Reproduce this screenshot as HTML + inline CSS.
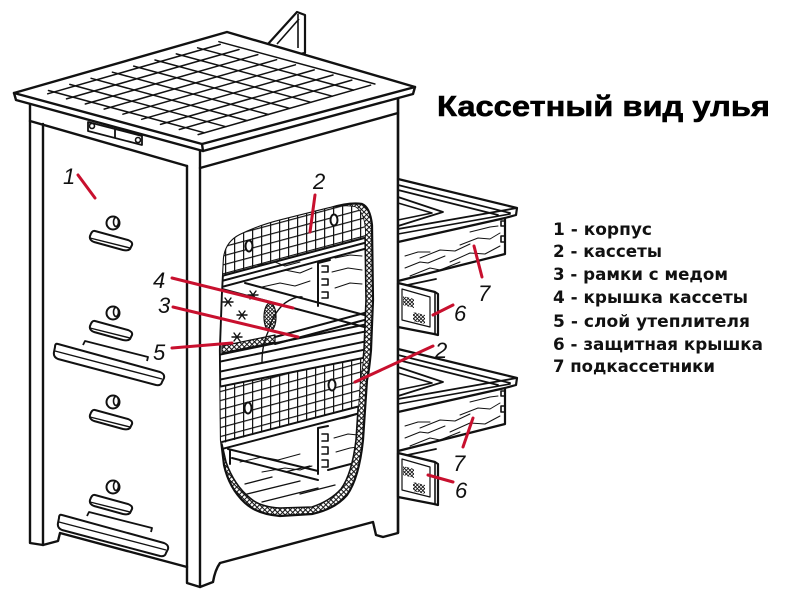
<!DOCTYPE html>
<html><head><meta charset="utf-8"><style>
html,body{margin:0;padding:0;background:#fff;}
svg{display:block;}
</style></head><body>
<svg width="800" height="600" viewBox="0 0 800 600" xmlns="http://www.w3.org/2000/svg">
<defs>
<pattern id="xh" width="3.6" height="3.6" patternUnits="userSpaceOnUse" patternTransform="rotate(45)">
 <rect width="3.6" height="3.6" fill="#fff"/>
 <path d="M0,0.5H3.6M0.5,0V3.6" stroke="#111" stroke-width="1"/>
</pattern>
<pattern id="mesh" width="9" height="9" patternUnits="userSpaceOnUse" patternTransform="skewY(-15)">
 <rect width="9" height="9" fill="#fff"/>
 <path d="M0,0.6H9M0.6,0V9" stroke="#111" stroke-width="1.2"/>
</pattern>
<pattern id="fine" width="2.6" height="2.6" patternUnits="userSpaceOnUse" patternTransform="rotate(45)">
 <rect width="2.6" height="2.6" fill="#fff"/>
 <path d="M0,0.4H2.6M0.4,0V2.6" stroke="#111" stroke-width="0.9"/>
</pattern>
<clipPath id="inner"><path d="M224,258 Q226,242 240,235 Q258,226 282,220 L330,208 Q345,205 355,207 Q364,212 365,230 L366,300 L364,350 Q362,372 360,380 L356,440 Q352,474 341,489 Q330,501 312,507 L280,508 Q260,507 250,498 Q234,485 226,462 L221,440 L220,350 L222,295 Z"/></clipPath>
<g id="drawer">
 <path d="M398,179 L517,208 L516,215 L505,218 V254 L398,281 Z" fill="#fff" stroke="none"/>
 <g stroke="#111" fill="none" stroke-linejoin="round" stroke-linecap="round">
  <path d="M398,179 L517,208 L516,215 L505,218" stroke-width="2.2"/>
  <path d="M398,185 L510,213" stroke-width="1.8"/>
  <path d="M398,190 L498,215" stroke-width="1.8"/>
  <path d="M398,197 L443,212 L398,226" stroke-width="1.8"/>
  <path d="M398,203 L432,213 L398,220" stroke-width="1.6"/>
  <path d="M398,229 L517,208" stroke-width="1.8"/>
  <path d="M398,234 L510,214" stroke-width="1.6"/>
  <path d="M398,242 L505,218 V254 L398,281" stroke-width="2.2"/>
  <path d="M505,221 h-4 v5 h4 M505,236 h-4 v6 h4" stroke-width="1.6"/>
  <path d="M398,287 L436,279" stroke-width="1.8"/>
  <g stroke-width="1">
   <path d="M405,268 L420,262 L428,263 L445,256"/>
   <path d="M410,276 L430,268 L440,270 L460,262"/>
   <path d="M420,258 L440,250 L455,251 L470,244"/>
   <path d="M450,262 L470,253 L485,254 L500,246"/>
   <path d="M460,245 L478,238 L490,239 L500,233"/>
   <path d="M405,256 L418,252 L430,252"/>
   <path d="M470,232 L490,227 L498,226"/>
  </g>
  <path d="M398,283 L435,292 L438,294 V335 L434,334 L398,327 Z" fill="#fff" stroke-width="2.2"/>
  <path d="M435,292 V334" stroke-width="1.6"/>
  <path d="M402,289 L430,297 V327 L402,320 Z" stroke-width="1.2"/>
  <path d="M403,296 L414,299 L414,308 L403,305 Z M413,312 L425,315 L425,324 L413,321 Z" fill="url(#fine)" stroke="none"/>
 </g>
</g>
</defs>

<!-- back plank -->
<g stroke="#111" stroke-width="2.2" fill="#fff" stroke-linejoin="round">
 <path d="M268,44 L297,12 L305,15 L305,53 L290,56 Z"/>
 <path d="M277,44 L299,19 M298,14 V48" fill="none" stroke-width="1.6"/>
</g>

<!-- body -->
<g stroke="#111" stroke-width="2.4" fill="none" stroke-linejoin="round" stroke-linecap="round">
 <path d="M30,98 V543 L43,545 V124" />
 <path d="M30,121 L187,166"/>
 <path d="M43,545 L58,541 L60,533 L187,567"/>
 <path d="M187,166 V583 L200,587 L213,582 Q215,570 220,563 L373,522 L376,535 L383,537 L398,533 V93"/>
 <path d="M200,151 V587"/>
 <path d="M200,168 L398,113"/>
 <path d="M88,122 L142,136 L142,145 L88,131 Z M115,129 V138" stroke-width="1.8"/>
 <circle cx="92" cy="126" r="2.5" stroke-width="1.6" fill="#fff"/>
 <circle cx="138" cy="140" r="2.5" stroke-width="1.6" fill="#fff"/>
</g>

<!-- knobs -->
<g stroke="#111" fill="#fff" stroke-width="2" stroke-linejoin="round">
 <g id="knob">
  <path d="M95,231 L128,240 Q133,242 132,245 L130,249 Q128,251 123,250 L94,242 Q89,240 90,236 Q92,230 95,231 Z"/>
  <path d="M90,238 L130,248" fill="none" stroke-width="1.4"/>
  <circle cx="113" cy="223" r="6.5"/>
  <ellipse cx="116" cy="222" rx="2.5" ry="4.5" stroke-width="1.6"/>
 </g>
 <use href="#knob" transform="translate(0,90)"/>
 <use href="#knob" transform="translate(0,179)"/>
 <use href="#knob" transform="translate(0,264)"/>
 <g id="board">
  <path d="M58,344 L160,372 Q165,374 164,378 L162,382 Q161,386 156,385 L58,359 Q53,357 54,352 L55,347 Q55,343 58,344 Z"/>
  <path d="M55,351 L162,379" fill="none" stroke-width="1.4"/>
  <path d="M83,345 L85,341 L148,357 L147,361" fill="none" stroke-width="1.8"/>
 </g>
 <use href="#board" transform="translate(4,171)"/>
</g>

<!-- drawers -->
<use href="#drawer"/>
<use href="#drawer" transform="translate(0,170)"/>
<path d="M398,93 V533" stroke="#111" stroke-width="2.4"/>

<!-- cutaway -->
<path d="M224,258 Q226,242 240,235 Q258,226 282,220 L330,208 Q350,202 362,204 Q370,207 372,225 L373,300 L371,350 Q369,372 367,380 L363,440 Q359,478 347,495 Q335,509 312,514 L280,516 Q257,514 245,503 Q229,488 224,465 L221,440 L220,350 L222,295 Z" fill="url(#xh)" stroke="#111" stroke-width="2.2"/>
<path d="M224,258 Q226,242 240,235 Q258,226 282,220 L330,208 Q345,205 355,207 Q364,212 365,230 L366,300 L364,350 Q362,372 360,380 L356,440 Q352,474 341,489 Q330,501 312,507 L280,508 Q260,507 250,498 Q234,485 226,462 L221,440 L220,350 L222,295 Z" fill="#fff" stroke="#111" stroke-width="1.6"/>
<g clip-path="url(#inner)" stroke="#111" fill="none" stroke-linecap="round" stroke-linejoin="round">
 <path d="M212,195 L375,195 L375,236 L212,279 Z" fill="url(#mesh)" stroke="none"/>
 <path d="M212,388 L375,356 L375,402 L212,446 Z" fill="url(#mesh)" stroke="none"/>
 <ellipse cx="249" cy="246" rx="3.5" ry="5.5" stroke-width="2" fill="#fff"/>
 <ellipse cx="334" cy="220" rx="3.5" ry="5.5" stroke-width="2" fill="#fff"/>
 <ellipse cx="248" cy="408" rx="3.5" ry="5.5" stroke-width="2" fill="#fff"/>
 <ellipse cx="332" cy="385" rx="3.5" ry="5.5" stroke-width="2" fill="#fff"/>
 <g stroke-width="2">
  <path d="M218,277 L368,237"/>
  <path d="M218,282 L368,242"/>
  <path d="M218,288 L368,248"/>
  <path d="M222,289 L368,328"/>
  <path d="M245,283 L368,316"/>
  <path d="M318,263 V306 M318,263 L330,260"/>
  <path d="M275,337 L368,312"/>
  <path d="M275,344 L368,319"/>
  <path d="M218,355 L368,324"/>
  <path d="M218,362 L368,331"/>
  <path d="M218,372 L368,341"/>
  <path d="M218,380 L368,349"/>
  <path d="M218,387 L368,357"/>
  <path d="M218,443 L368,404"/>
  <path d="M218,450 L368,411"/>
  <path d="M228,449 L318,471 M232,458 L318,480 M230,450 V464"/>
  <path d="M318,428 V474 M318,428 L328,426 M328,470 L362,461"/>
 </g>
 <path d="M322,266 h6 v6 h-6 M322,279 h6 v6 h-6 M322,292 h6 v6 h-6 M322,434 h6 v7 h-6 M322,447 h6 v7 h-6 M322,460 h6 v7 h-6" stroke-width="1.6"/>
 <path d="M222,346 L275,335 L275,342 L222,353 Z" fill="url(#xh)" stroke-width="1.2"/>
 <ellipse cx="270" cy="317" rx="6" ry="14" fill="url(#fine)" stroke-width="1.2"/>
 <path d="M262,362 Q262,345 268,332 Q273,313 285,303 Q295,296 302,297" stroke-width="1.4"/>
 <g stroke-width="1">
  <path d="M258,265 L275,262 L285,266 L300,262 M265,275 L285,270 L300,273 L312,268 M262,287 L280,283 L295,286 L310,281 M335,258 L350,255 L362,256 M332,272 L348,268 L362,270 M335,288 L350,283 L362,284"/>
  <path d="M240,462 L262,457 L278,460 L300,454 M262,472 L285,468 L300,470 L312,466 M332,420 L345,418 L358,414 M334,438 L348,434 L358,435 M336,452 L350,448 L358,447"/>
  <path d="M245,484 L272,477 M243,495 L300,481 M262,502 L318,488 M285,472 L310,466 M300,494 L335,485" stroke-width="1.3"/>
 </g>
 <g stroke-width="1.4">
  <path d="M223,302 L233,302 M225,298 L231,306 M231,298 L225,306"/>
  <path d="M248,295 L258,295 M250,291 L256,299 M256,291 L250,299"/>
  <path d="M237,315 L247,315 M239,311 L245,319 M245,311 L239,319"/>
  <path d="M232,337 L242,337 M234,333 L240,341 M240,333 L234,341"/>
 </g>
</g>

<!-- roof -->
<g stroke="#111" stroke-width="2.4" fill="none" stroke-linejoin="round" stroke-linecap="round">
 <path d="M14,93 L227,32 L415,87 L413,94 L203,151 L16,100 Z" fill="#fff"/>
 <path d="M14,93 L202,144 L415,87 M202,144 L203,151"/>
 <g stroke-width="1.5">
  <path d="M47.7,93.8 L220.2,44.4 M66.5,98.9 L239.0,49.5 M85.3,104.0 L257.8,54.6 M104.1,109.1 L276.6,59.7 M122.9,114.2 L295.4,64.8 M141.7,119.3 L314.2,69.9 M160.5,124.4 L333.0,75.0 M179.3,129.5 L351.8,80.1 M198.1,134.6 L370.6,85.2"/>
  <path d="M48.5,90.5 L204.5,132.8 M69.8,84.4 L225.8,126.7 M91.1,78.3 L247.1,120.6 M112.4,72.2 L268.4,114.5 M133.7,66.1 L289.7,108.4 M155.0,60.0 L311.0,102.3 M176.3,53.9 L332.3,96.2 M197.6,47.8 L353.6,90.1 M218.9,41.7 L374.9,84.0"/>
 </g>
</g>

<!-- red leader lines -->
<g stroke="#c8102e" stroke-width="3" stroke-linecap="round">
 <path d="M78,175 L95,198"/>
 <path d="M315,195 L310,232"/>
 <path d="M172,278 L293,308"/>
 <path d="M173,307 L298,337"/>
 <path d="M172,348 L232,343"/>
 <path d="M433,346 L355,382"/>
 <path d="M474,246 L482,277"/>
 <path d="M433,315 L453,305"/>
 <path d="M473,418 L463,447"/>
 <path d="M428,475 L453,482"/>
</g>

<!-- number labels -->
<g font-family="Liberation Sans, sans-serif" font-style="italic" font-size="22" fill="#111">
 <text x="63" y="184">1</text>
 <text x="313" y="189">2</text>
 <text x="153" y="288">4</text>
 <text x="158" y="313">3</text>
 <text x="153" y="360">5</text>
 <text x="435" y="358">2</text>
 <text x="478" y="301">7</text>
 <text x="454" y="321">6</text>
 <text x="453" y="471">7</text>
 <text x="455" y="498">6</text>
</g>

<!-- title -->
<text x="437" y="116" font-family="Liberation Sans, sans-serif" font-weight="bold" font-size="29" textLength="333" lengthAdjust="spacingAndGlyphs" fill="#000" stroke="#000" stroke-width="0.6">Кассетный вид улья</text>

<!-- legend -->
<g font-family="DejaVu Sans, Liberation Sans, sans-serif" font-weight="bold" font-size="17" fill="#111">
 <text x="553" y="235" textLength="99" lengthAdjust="spacingAndGlyphs">1 - корпус</text>
 <text x="553" y="257" textLength="109" lengthAdjust="spacingAndGlyphs">2 - кассеты</text>
 <text x="553" y="280" textLength="175" lengthAdjust="spacingAndGlyphs">3 - рамки с медом</text>
 <text x="553" y="303" textLength="195" lengthAdjust="spacingAndGlyphs">4 - крышка кассеты</text>
 <text x="553" y="327" textLength="197" lengthAdjust="spacingAndGlyphs">5 - слой утеплителя</text>
 <text x="553" y="350" textLength="210" lengthAdjust="spacingAndGlyphs">6 - защитная крышка</text>
 <text x="553" y="372" textLength="162" lengthAdjust="spacingAndGlyphs">7 подкассетники</text>
</g>
</svg>
</body></html>
